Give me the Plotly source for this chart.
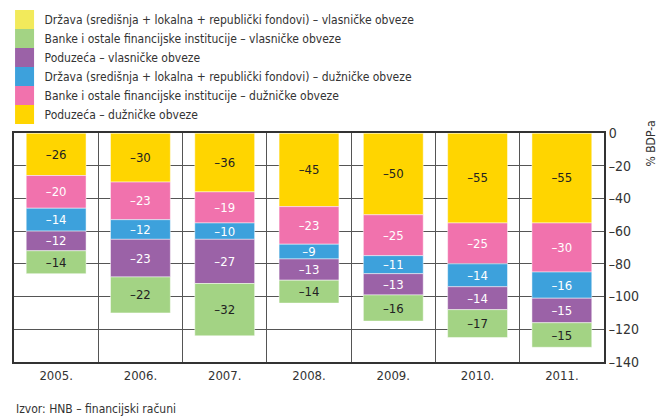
import plotly.graph_objects as go

years = ["2005.", "2006.", "2007.", "2008.", "2009.", "2010.", "2011."]

# stacked from 0 downward (trace order)
series_names = [
    "Poduzeća – dužničke obveze",
    "Banke i ostale financijske institucije – dužničke obveze",
    "Država (središnja + lokalna + republički fondovi) – dužničke obveze",
    "Poduzeća – vlasničke obveze",
    "Banke i ostale financijske institucije – vlasničke obveze",
    "Država (središnja + lokalna + republički fondovi) – vlasničke obveze",
]
poduzeca_duz = [-26, -30, -36, -45, -50, -55, -55]
banke_duz = [-20, -23, -19, -23, -25, -25, -30]
drzava_duz = [-14, -12, -10, -9, -11, -14, -16]
poduzeca_vl = [-12, -23, -27, -13, -13, -14, -15]
banke_vl = [-14, -22, -32, -14, -16, -17, -15]
drzava_vl = [0, 0, 0, 0, 0, 0, 0]

series_values = [poduzeca_duz, banke_duz, drzava_duz, poduzeca_vl, banke_vl, drzava_vl]
colors = ["#FFD500", "#F172AD", "#3DA1DC", "#9B62A7", "#A3D384", "#F2EA5B"]
text_colors = ["#222222", "#FFFFFF", "#FFFFFF", "#FFFFFF", "#222222", "#222222"]

y_tickvals = [0, -20, -40, -60, -80, -100, -120, -140]
y_ticktext = ["0", "–20", "–40", "–60", "–80", "–100", "–120", "–140"]

FONT = "DejaVu Sans Condensed, Roboto, sans-serif"

fig = go.Figure()
for i, (name, vals, col, tcol) in enumerate(zip(series_names, series_values, colors, text_colors)):
    fig.add_trace(go.Bar(
        x=years, y=vals, name=name, legendgroup="g%d" % i, showlegend=False,
        marker=dict(color=col, line=dict(color="rgba(255,255,255,0.6)", width=0.8)),
        text=[("–%d" % abs(v)) if v != 0 else "" for v in vals],
        textposition="inside", insidetextanchor="middle", textangle=0,
        textfont=dict(color=tcol, size=13, family=FONT),
        hoverinfo="skip",
    ))
# legend entries (large square swatches)
for i, (name, col) in enumerate(zip(series_names, colors)):
    fig.add_trace(go.Scatter(
        x=[None], y=[None], mode="markers", name=name, legendgroup="g%d" % i,
        marker=dict(symbol="square", size=16, color=col, line=dict(color=col, width=3)),
        hoverinfo="skip",
    ))

fig.update_layout(
    width=670, height=420,
    margin=dict(l=14, r=66, t=133, b=58, autoexpand=False),
    barmode="relative", bargap=0.29,
    plot_bgcolor="white", paper_bgcolor="white",
    font=dict(family=FONT, size=13, color="#333333"),
    uniformtext=dict(minsize=13, mode="show"),
    showlegend=True,
    legend=dict(
        x=-0.016, xanchor="left", yref="container", y=0.988, yanchor="top",
        traceorder="reversed", font=dict(size=12, color="#333333", family=FONT),
        bgcolor="rgba(0,0,0,0)", tracegroupgap=0, itemwidth=30,
    ),
    xaxis=dict(
        type="category", tickson="boundaries", showgrid=True, gridcolor="#555555", gridwidth=1,
        showline=True, linecolor="#333333", linewidth=2, mirror=True,
        ticks="", tickfont=dict(size=13, color="#333333"),
    ),
    yaxis=dict(
        side="right", range=[-140, 0], tickvals=y_tickvals, ticktext=y_ticktext,
        showgrid=True, gridcolor="#555555", gridwidth=1, zeroline=False,
        showline=True, linecolor="#333333", linewidth=2, mirror=True,
        ticks="", tickfont=dict(size=14, color="#333333"),
    ),
    annotations=[
        dict(text="% BDP-a", xref="paper", yref="paper", x=1.08, y=0.955,
             xanchor="center", yanchor="middle",
             textangle=-90, showarrow=False, font=dict(size=12, color="#333333")),
        dict(text="Izvor: HNB – financijski računi", xref="paper", yref="paper",
             x=0, xanchor="left", y=-0.205, yanchor="middle", showarrow=False,
             font=dict(size=12, color="#333333")),
    ],
)

fig.write_html("out.html", config={"displayModeBar": False},
               post_script="document.body.style.margin='0';")
